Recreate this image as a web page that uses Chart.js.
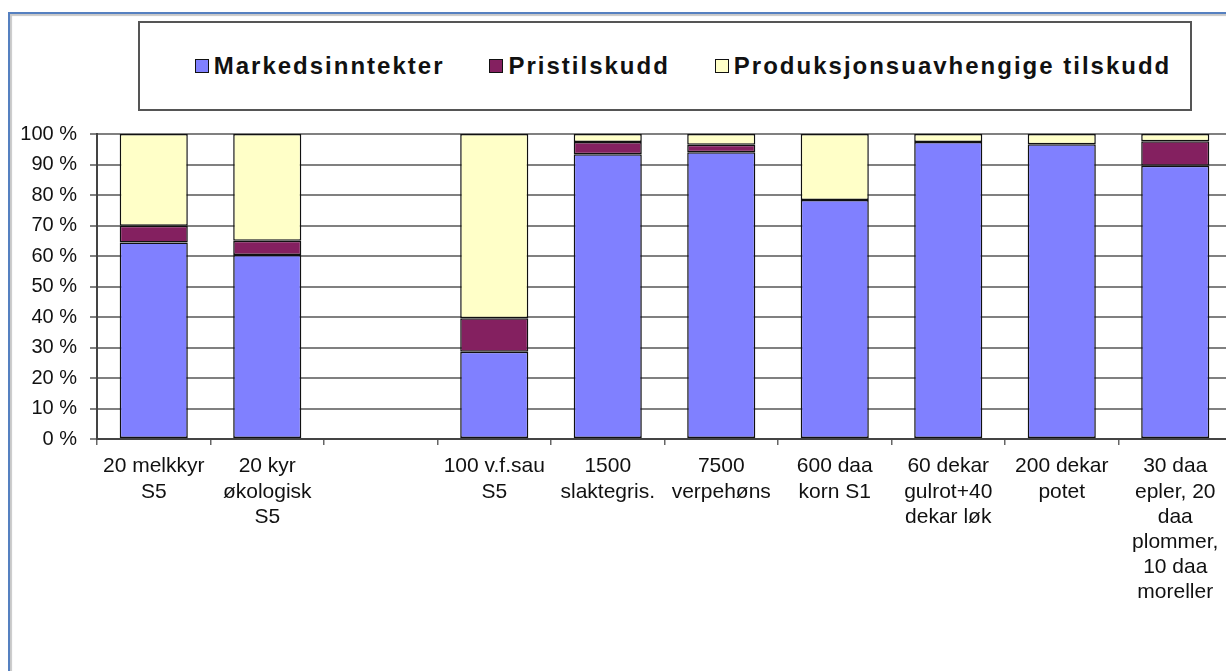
<!DOCTYPE html>
<html>
<head>
<meta charset="utf-8">
<script src="https://cdn.jsdelivr.net/npm/chart.js@4"></script>
<style>
  html, body { margin: 0; padding: 0; background: #fff; overflow: hidden; }
  body { width: 1226px; height: 671px; position: relative; font-family: "Liberation Sans", Arial, sans-serif; }
  #frame { position: absolute; left: 8px; top: 12px; width: 1300px; height: 700px;
           border-left: 2px solid #5580c0; border-top: 2px solid #5580c0;
           box-shadow: inset 2px 2px 1px #c8c8c8; }
  #wrap { position: absolute; left: 0; top: 0; width: 1240px; height: 671px; }
  #legend { position: absolute; left: 138px; top: 21px; width: 1014px; height: 86px; padding-left: 36px;
            border: 2px solid #555; background: #fff; display: flex; align-items: center;
            justify-content: center; gap: 45px; font-weight: bold; font-size: 24px;
            letter-spacing: 2px; color: #111; }
  #legend span.sw { display: inline-block; width: 12px; height: 12px; border: 1.5px solid #111; margin-right: 5px; vertical-align: 1px; }
</style>
</head>
<body>
<div id="frame"></div>
<div id="wrap"><canvas id="myChart" width="1240" height="671"></canvas></div>
<div id="legend"></div>
<script>
// categories (multi-line labels), one empty slot kept as in the original
const categories = [
    ["20 melkkyr", "S5"],
    ["20 kyr", "økologisk", "S5"],
    "",
    ["100 v.f.sau", "S5"],
    ["1500", "slaktegris."],
    ["7500", "verpehøns"],
    ["600 daa", "korn S1"],
    ["60 dekar", "gulrot+40", "dekar løk"],
    ["200 dekar", "potet"],
    ["30 daa", "epler, 20", "daa", "plommer,", "10 daa", "moreller"]
];

// share of total income, per cent
const markedsinntekter = [64.4, 60.3, null, 28.6, 93.4, 94.0, 78.4, 97.4, 96.6, 89.6];
const pristilskudd     = [5.5, 4.7, null, 11.0, 4.0, 2.5, 0, 0, 0, 8.0];
const prodUavhengige   = [30.1, 35.0, null, 60.4, 2.6, 3.5, 21.6, 2.6, 3.4, 2.4];

const seriesNames = ["Markedsinntekter", "Pristilskudd", "Produksjonsuavhengige tilskudd"];
const seriesColors = ["#8080ff", "#842060", "#ffffc8"];
const yTicks = [0, 10, 20, 30, 40, 50, 60, 70, 80, 90, 100];

// legend in a box, built from the series lists
const legendEl = document.getElementById("legend");
seriesNames.forEach((name, i) => {
    const item = document.createElement("div");
    item.innerHTML = '<span class="sw" style="background:' + seriesColors[i] + '"></span>' + name;
    legendEl.appendChild(item);
});

const seriesData = [markedsinntekter, pristilskudd, prodUavhengige];

var ctx = document.getElementById('myChart').getContext('2d');
var myChart = new Chart(ctx, {
    type: 'bar',
    data: {
        labels: categories,
        datasets: seriesNames.map((name, i) => ({
            label: name,
            data: seriesData[i],
            backgroundColor: seriesColors[i],
            borderColor: '#111',
            borderWidth: 1.5,
            borderSkipped: false,
            categoryPercentage: 1.0,
            barPercentage: 0.6
        }))
    },
    options: {
        responsive: false,
        animation: false,
        layout: { padding: { top: 134, left: 0, right: 8, bottom: 0 } },
        plugins: { legend: { display: false }, tooltip: { enabled: false } },
        scales: {
            x: {
                stacked: true,
                grid: { display: true, drawOnChartArea: false, tickLength: 6, color: '#666', lineWidth: 1.5 },
                border: { display: true, color: '#444', width: 2 },
                ticks: {
                    maxRotation: 0, autoSkip: false, padding: 9,
                    color: '#111',
                    font: { family: '"Liberation Sans", Arial', size: 21, lineHeight: 1.2 }
                },
                afterFit: function(scale) { scale.height = 232; }
            },
            y: {
                stacked: true,
                min: 0, max: 100,
                afterBuildTicks: function(scale) { scale.ticks = yTicks.map(v => ({ value: v })); },
                grid: { color: '#808080', lineWidth: 2, tickLength: 7 },
                border: { display: true, color: '#444', width: 2 },
                ticks: {
                    padding: 13, color: '#111',
                    font: { family: '"Liberation Sans", Arial', size: 20 },
                    callback: function(v) { return v + ' %'; }
                },
                afterFit: function(scale) { scale.width = 97; }
            }
        }
    }
});
</script>
</body>
</html>
